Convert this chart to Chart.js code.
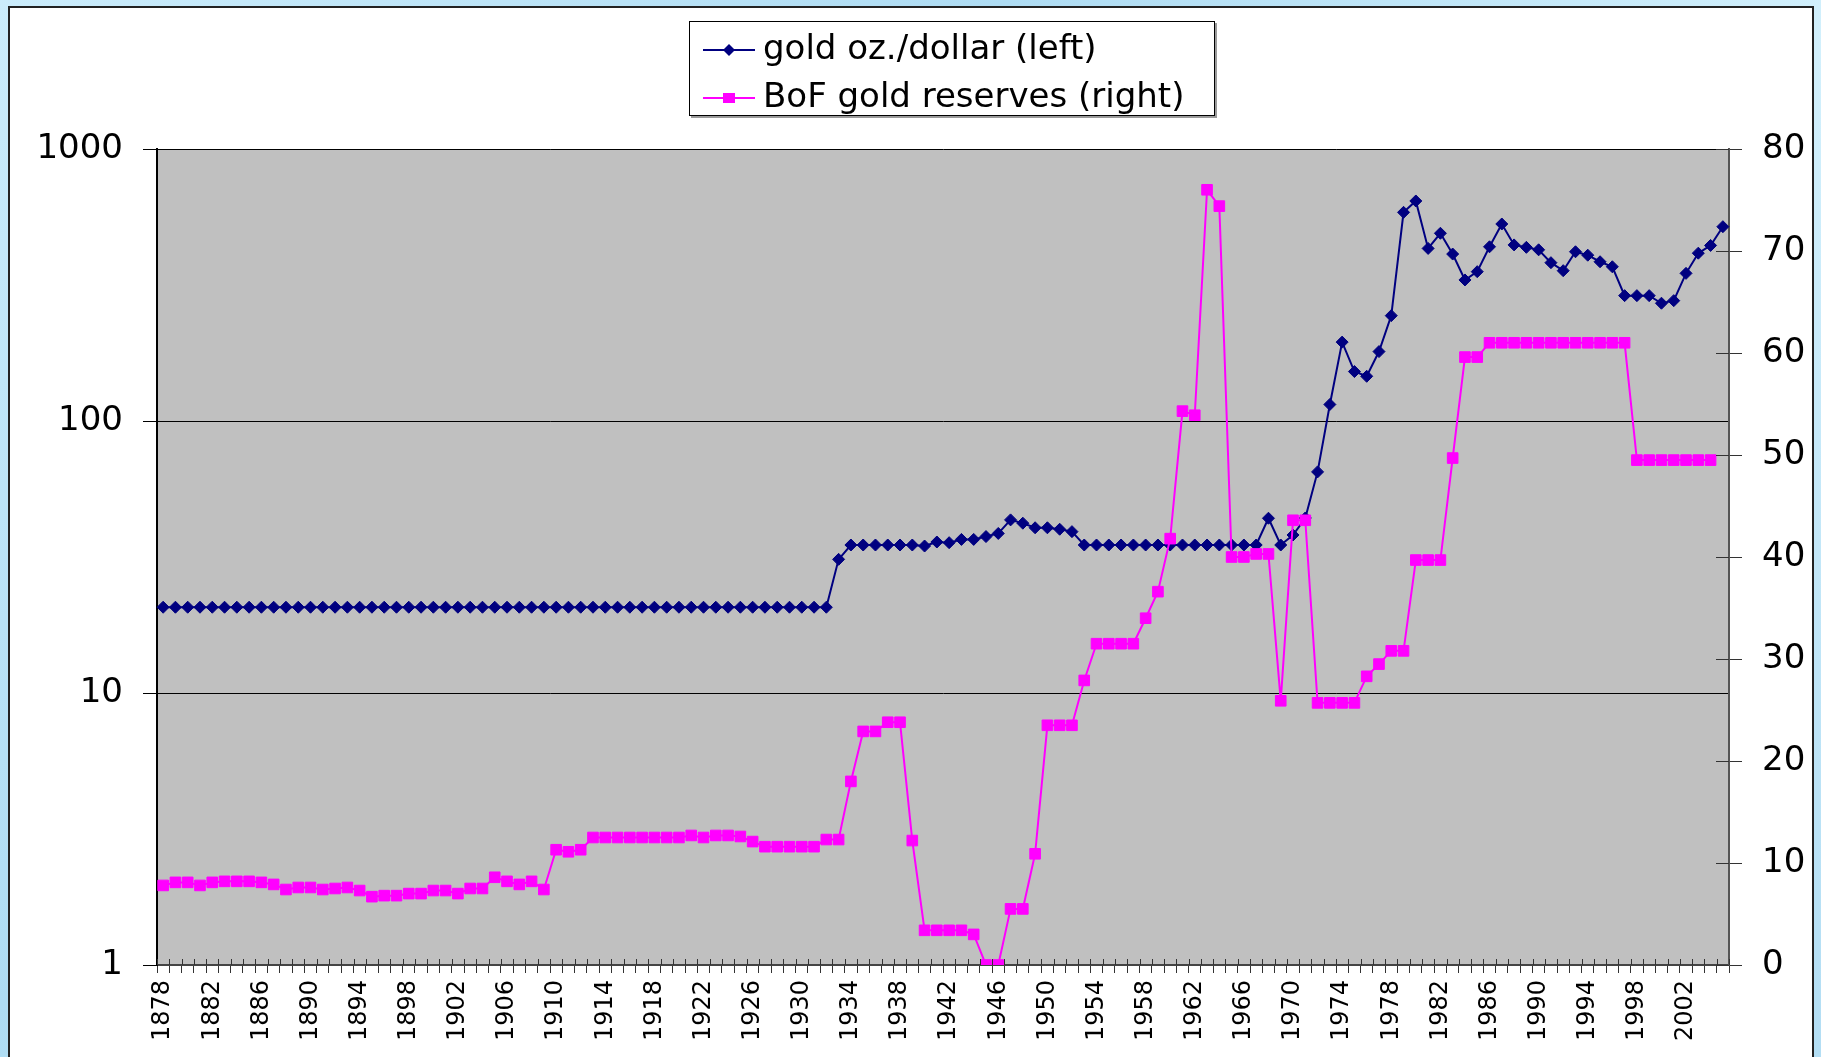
<!DOCTYPE html>
<html>
<head>
<meta charset="utf-8">
<title>gold oz./dollar and BoF gold reserves</title>
<script src="https://cdn.jsdelivr.net/npm/chart.js@4.4.1/dist/chart.umd.min.js"></script>
<style>
    html, body { margin: 0; padding: 0; }
    body {
        width: 1821px;
        height: 1057px;
        overflow: hidden;
        position: relative;
        background: linear-gradient(135deg, #cbecfb 0%, #aedcf3 35%, #d2f0fc 65%, #b3def4 100%);
    }
    #frame {
        position: absolute;
        left: 8px;
        top: 6px;
        width: 1806px;
        height: 1070px;
        background: #fff;
        border: 2px solid #222;
        box-sizing: border-box;
    }
    #myChart { position: absolute; left: 0; top: 0; }
</style>
</head>
<body>
<div id="frame"></div>
<canvas id="myChart" width="1821" height="1057"></canvas>
<script>
// anni sull'asse x (categorie)
const firstYear = 1878;
const lastYear = 2005;
const years = [];
for (let y = firstYear; y <= lastYear; y++) years.push(String(y));

// gold oz./dollar (asse sinistro, logaritmico)
const goldPerDollar = [
    20.67, 20.67, 20.67, 20.67, 20.67, 20.67, 20.67, 20.67, 20.67, 20.67, // 1878
    20.67, 20.67, 20.67, 20.67, 20.67, 20.67, 20.67, 20.67, 20.67, 20.67, // 1888
    20.67, 20.67, 20.67, 20.67, 20.67, 20.67, 20.67, 20.67, 20.67, 20.67, // 1898
    20.67, 20.67, 20.67, 20.67, 20.67, 20.67, 20.67, 20.67, 20.67, 20.67, // 1908
    20.67, 20.67, 20.67, 20.67, 20.67, 20.67, 20.67, 20.67, 20.67, 20.67, // 1918
    20.67, 20.67, 20.67, 20.67, 20.67, 31, 35, 35, 35, 35,                // 1928
    35, 35, 34.7, 35.9, 35.7, 36.7, 36.7, 37.6, 38.6, 43.3,               // 1938
    42.1, 40.5, 40.5, 40.0, 39.2, 35, 35, 35, 35, 35,                     // 1948
    35, 35, 35, 35, 35, 35, 35, 35, 35, 35,                               // 1958
    43.9, 35, 38.1, 44, 65, 115, 195, 152, 146, 180,                      // 1968
    244, 585, 644, 431, 490, 411, 330, 354, 437, 530,                     // 1978
    444, 435, 426, 382, 357, 419, 407, 385, 369, 289,                     // 1988
    289, 289, 271, 277, 349, 414, 442, 518                                // 1998
];

// BoF gold reserves (asse destro)
const bofReserves = [
    7.8, 8.1, 8.1, 7.8, 8.1, 8.2, 8.2, 8.2, 8.1, 7.9,                     // 1878
    7.4, 7.6, 7.6, 7.4, 7.5, 7.6, 7.3, 6.7, 6.8, 6.8,                     // 1888
    7.0, 7.0, 7.3, 7.3, 7.0, 7.5, 7.5, 8.6, 8.2, 7.9,                     // 1898
    8.2, 7.4, 11.3, 11.1, 11.3, 12.5, 12.5, 12.5, 12.5, 12.5,             // 1908
    12.5, 12.5, 12.5, 12.7, 12.5, 12.7, 12.7, 12.6, 12.1, 11.6,           // 1918
    11.6, 11.6, 11.6, 11.6, 12.3, 12.3, 18.0, 22.9, 22.9, 23.8,           // 1928
    23.8, 12.2, 3.4, 3.4, 3.4, 3.4, 3.0, 0, 0, 5.5,                       // 1938
    5.5, 10.9, 23.5, 23.5, 23.5, 27.9, 31.5, 31.5, 31.5, 31.5,            // 1948
    34.0, 36.6, 41.8, 54.3, 53.9, 76.0, 74.4, 40.0, 40.0, 40.3,           // 1958
    40.3, 25.9, 43.6, 43.6, 25.7, 25.7, 25.7, 25.7, 28.3, 29.5,           // 1968
    30.8, 30.8, 39.7, 39.7, 39.7, 49.7, 59.6, 59.6, 61.0, 61.0,           // 1978
    61.0, 61.0, 61.0, 61.0, 61.0, 61.0, 61.0, 61.0, 61.0, 61.0,           // 1988
    49.5, 49.5, 49.5, 49.5, 49.5, 49.5, 49.5, null                        // 1998
];

// etichette degli assi
const leftTicks = [1, 10, 100, 1000];
const rightTicks = [0, 10, 20, 30, 40, 50, 60, 70, 80];
const labelEvery = 4;

const seriesNames = ['gold oz./dollar (left)', 'BoF gold reserves (right)'];
const navy = '#000080';
const magenta = '#ff00ff';

Chart.defaults.font.family = "'DejaVu Sans', sans-serif";
Chart.defaults.color = '#000';

// sfondo grigio dell'area del grafico
const plotBg = {
    id: 'plotBg',
    beforeDraw(chart) {
        const { ctx, chartArea } = chart;
        ctx.save();
        ctx.fillStyle = '#c0c0c0';
        ctx.fillRect(chartArea.left, chartArea.top,
            chartArea.right - chartArea.left, chartArea.bottom - chartArea.top);
        ctx.restore();
    }
};

// piccole tacche verso l'interno (come in Excel le tacche attraversano l'asse)
const innerTicks = {
    id: 'innerTicks',
    afterDatasetsDraw(chart) {
        const { ctx, chartArea, scales } = chart;
        const xs = scales.x;
        const step = (chartArea.right - chartArea.left) / years.length;
        ctx.save();
        ctx.strokeStyle = '#333';
        ctx.lineWidth = 1;
        ctx.beginPath();
        for (let i = 0; i <= years.length; i++) {
            const px = Math.round(xs.left + i * step) + 0.5;
            ctx.moveTo(px, chartArea.bottom);
            ctx.lineTo(px, chartArea.bottom - 6);
        }
        rightTicks.forEach(function (v) {
            const py = Math.round(scales.y2.getPixelForValue(v)) + 0.5;
            ctx.moveTo(chartArea.right, py);
            ctx.lineTo(chartArea.right - 13, py);
        });
        ctx.stroke();
        ctx.restore();
    }
};

// legenda nel riquadro in alto, linea con marcatore al centro
const boxLegend = {
    id: 'boxLegend',
    afterDraw(chart) {
        const ctx = chart.ctx;
        const box = { x: 689, y: 21, w: 526, h: 95 };
        const rows = [50, 98];
        ctx.save();
        ctx.fillStyle = '#9a9a9a';
        ctx.fillRect(box.x + 2, box.y + 2, box.w, box.h);
        ctx.fillStyle = '#fff';
        ctx.fillRect(box.x, box.y, box.w, box.h);
        ctx.strokeStyle = '#000';
        ctx.lineWidth = 1;
        ctx.strokeRect(box.x + 0.5, box.y + 0.5, box.w - 1, box.h - 1);

        chart.data.datasets.forEach(function (ds, i) {
            const y = rows[i];
            ctx.strokeStyle = ds.borderColor;
            ctx.fillStyle = ds.borderColor;
            ctx.lineWidth = 2;
            ctx.beginPath();
            ctx.moveTo(703, y);
            ctx.lineTo(755, y);
            ctx.stroke();
            ctx.beginPath();
            if (ds.pointStyle === 'rectRot') {
                ctx.moveTo(729, y - 6);
                ctx.lineTo(735, y);
                ctx.lineTo(729, y + 6);
                ctx.lineTo(723, y);
                ctx.closePath();
            } else {
                ctx.rect(723, y - 5, 12, 10);
            }
            ctx.fill();
            ctx.fillStyle = '#000';
            ctx.font = "34px 'DejaVu Sans'";
            ctx.textBaseline = 'middle';
            ctx.textAlign = 'left';
            ctx.fillText(ds.label, 763, y);
        });
        ctx.restore();
    }
};

new Chart(
    document.getElementById('myChart'),
    {
        type: 'line',
        data: {
            labels: years,
            datasets: [
                {
                    label: seriesNames[0],
                    data: goldPerDollar,
                    yAxisID: 'y',
                    order: 1,
                    borderColor: navy,
                    backgroundColor: navy,
                    borderWidth: 2,
                    pointStyle: 'rectRot',
                    pointRadius: 6,
                    pointBorderWidth: 1,
                    tension: 0
                },
                {
                    label: seriesNames[1],
                    data: bofReserves,
                    yAxisID: 'y2',
                    order: 0,
                    borderColor: magenta,
                    backgroundColor: magenta,
                    borderWidth: 2,
                    pointStyle: 'rect',
                    pointRadius: 7.5,
                    pointBorderWidth: 1,
                    tension: 0
                }
            ]
        },
        options: {
            responsive: false,
            devicePixelRatio: 1,
            animation: false,
            layout: { padding: { top: 149, left: 0, right: 0, bottom: 0 } },
            plugins: {
                legend: { display: false },
                tooltip: { enabled: false }
            },
            scales: {
                x: {
                    type: 'category',
                    offset: true,
                    grid: { offset: true, drawOnChartArea: false, color: '#333', tickLength: 8 },
                    border: { color: '#444', width: 2 },
                    ticks: {
                        autoSkip: false,
                        minRotation: 90,
                        maxRotation: 90,
                        padding: 7,
                        font: { size: 24 },
                        callback: function (val, i) {
                            return i % labelEvery === 0 ? years[i] : '';
                        }
                    },
                    afterFit: function (s) { s.height = 92; }
                },
                y: {
                    type: 'logarithmic',
                    position: 'left',
                    min: 1,
                    max: 1000,
                    afterBuildTicks: function (s) {
                        s.ticks = leftTicks.map(v => ({ value: v }));
                    },
                    grid: { color: '#000', lineWidth: 1, tickLength: 14 },
                    border: { color: '#000', width: 2 },
                    ticks: {
                        padding: 20,
                        font: { size: 34 },
                        callback: function (v) { return String(v); }
                    },
                    afterFit: function (s) { s.width = 157; }
                },
                y2: {
                    type: 'linear',
                    position: 'right',
                    min: 0,
                    max: 80,
                    afterBuildTicks: function (s) {
                        s.ticks = rightTicks.map(v => ({ value: v }));
                    },
                    grid: { drawOnChartArea: false, color: '#333', tickLength: 13 },
                    border: { color: '#555', width: 2 },
                    ticks: { padding: 20, font: { size: 34 } },
                    afterFit: function (s) { s.width = 92; }
                }
            }
        },
        plugins: [plotBg, innerTicks, boxLegend]
    }
);
</script>
</body>
</html>
